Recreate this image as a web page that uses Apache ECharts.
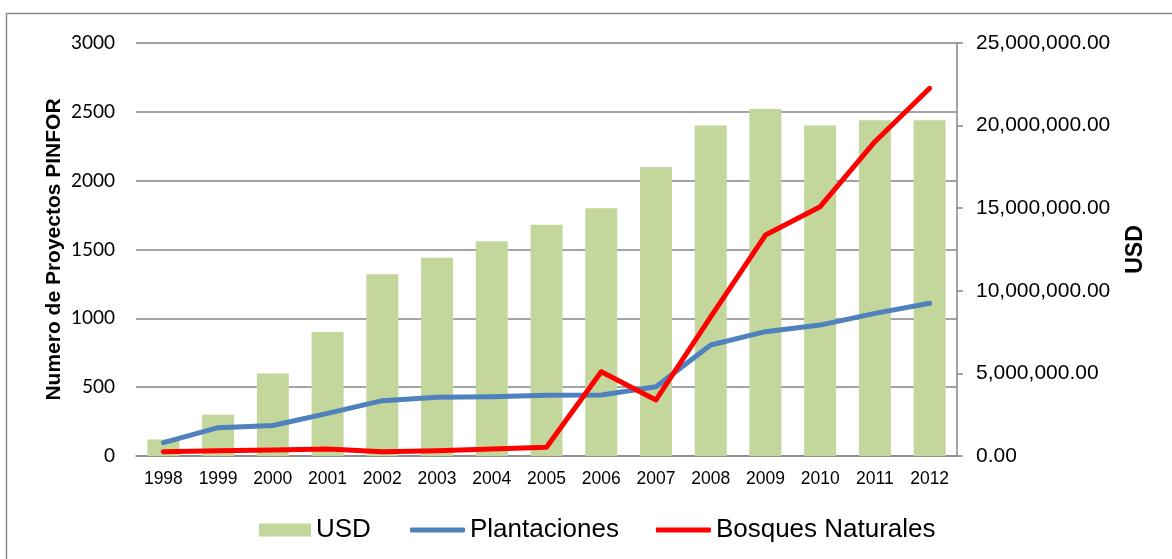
<!DOCTYPE html>
<html>
<head>
<meta charset="utf-8">
<script src="https://cdn.jsdelivr.net/npm/echarts@6/dist/echarts.min.js"></script>
<style>
html,body{margin:0;padding:0;background:#fff;}
#chart{width:1172px;height:559px;}
</style>
</head>
<body>
<div id="chart"></div>
<script>
var years = ['1998','1999','2000','2001','2002','2003','2004','2005','2006','2007','2008','2009','2010','2011','2012'];
var usd = [1000000, 2500000, 5000000, 7500000, 11000000, 12000000, 13000000, 14000000, 15000000, 17500000, 20000000, 21000000, 20000000, 20330000, 20330000];
var plantaciones = [97, 206, 222, 310, 402, 426, 431, 441, 443, 503, 806, 903, 951, 1036, 1109];
var bosquesNaturales = [31, 39, 44, 51, 31, 39, 51, 63, 612, 407, 1010, 1605, 1811, 2283, 2671];

function fmtUsd(v) {
  var s = Math.round(v).toString().replace(/\B(?=(\d{3})+(?!\d))/g, ',');
  return s + '.00';
}

var legendText = {fontFamily: 'Liberation Sans, Arial, sans-serif', fontSize: 26, color: '#000'};

var chart = echarts.init(document.getElementById('chart'), null, {renderer: 'canvas'});
chart.setOption({
  animation: false,
  backgroundColor: '#ffffff',
  graphic: [{
    type: 'rect',
    shape: {x: 6.5, y: 13.5, width: 1300, height: 700},
    style: {fill: 'none', stroke: '#8c8c8c', lineWidth: 1.5},
    silent: true
  }],
  grid: {left: 136, right: 215, top: 43, bottom: 103, containLabel: false},
  legend: [{
    left: 259,
    top: 517,
    padding: 0,
    itemWidth: 52,
    itemHeight: 13,
    textStyle: legendText,
    data: [{name: 'USD', icon: 'rect'}]
  }, {
    left: 410,
    top: 517,
    padding: 0,
    itemWidth: 55,
    itemHeight: 5,
    itemGap: 37,
    icon: 'roundRect',
    textStyle: legendText,
    data: ['Plantaciones', 'Bosques Naturales']
  }],
  xAxis: {
    type: 'category',
    data: years,
    axisLine: {show: true, lineStyle: {color: '#868686', width: 1.5}},
    axisTick: {show: false},
    axisLabel: {fontFamily: 'Liberation Sans, Arial, sans-serif', fontSize: 17.5, color: '#000', margin: 14}
  },
  yAxis: [{
    type: 'value',
    min: 0, max: 3000, interval: 500,
    name: 'Numero de Proyectos PINFOR',
    nameLocation: 'middle',
    nameRotate: 90,
    nameGap: 71,
    nameMoveOverlap: false,
    nameTextStyle: {fontFamily: 'Liberation Sans, Arial, sans-serif', fontSize: 21, fontWeight: 'bold', color: '#000'},
    axisLine: {show: false},
    axisTick: {show: false},
    splitLine: {show: true, lineStyle: {color: '#868686', width: 1.5}},
    axisLabel: {fontFamily: 'Lato, sans-serif', fontSize: 19, color: '#000', margin: 21, formatter: function (v) { return String(v); }}
  }, {
    type: 'value',
    min: 0, max: 25000000, interval: 5000000,
    position: 'right',
    name: 'USD',
    nameLocation: 'middle',
    nameRotate: 90,
    nameGap: 167,
    nameMoveOverlap: false,
    nameTextStyle: {fontFamily: 'Liberation Sans, Arial, sans-serif', fontSize: 23, fontWeight: 'bold', color: '#000'},
    axisLine: {show: true, lineStyle: {color: '#868686', width: 1.5}},
    axisTick: {show: true, length: 6, lineStyle: {color: '#868686', width: 1.5}},
    splitLine: {show: false},
    axisLabel: {fontFamily: 'Liberation Sans, Arial, sans-serif', fontSize: 21, color: '#000', margin: 19, formatter: fmtUsd}
  }],
  series: [{
    name: 'USD',
    type: 'bar',
    yAxisIndex: 1,
    data: usd,
    barWidth: 32,
    itemStyle: {color: '#C3D69B'}
  }, {
    name: 'Plantaciones',
    type: 'line',
    yAxisIndex: 0,
    data: plantaciones,
    symbol: 'none',
    lineStyle: {color: '#4F81BD', width: 5, cap: 'round', join: 'round'},
    itemStyle: {color: '#4F81BD'}
  }, {
    name: 'Bosques Naturales',
    type: 'line',
    yAxisIndex: 0,
    data: bosquesNaturales,
    symbol: 'none',
    lineStyle: {color: '#FF0000', width: 5, cap: 'round', join: 'round'},
    itemStyle: {color: '#FF0000'}
  }]
});
</script>
</body>
</html>
